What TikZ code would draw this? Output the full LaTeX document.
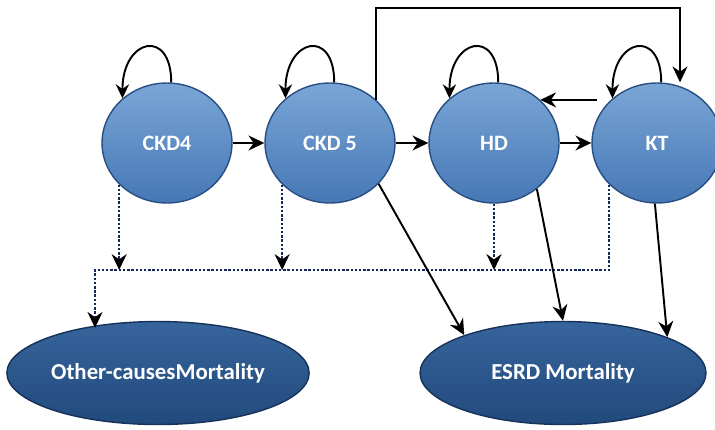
\documentclass[tikz,border=0pt]{standalone}
\usepackage{fontspec}
\setmainfont{Carlito}
\usetikzlibrary{arrows.meta,calc,positioning,shapes.geometric}
\definecolor{stateblue}{RGB}{70,120,182}
\definecolor{stateblueL}{RGB}{122,166,214}
\definecolor{stateedge}{RGB}{40,78,130}
\definecolor{deathtop}{RGB}{54,100,156}
\definecolor{deathbot}{RGB}{34,74,124}
\definecolor{deathedge}{RGB}{22,50,90}
\definecolor{dotnavy}{RGB}{18,42,90}

\begin{document}
\begin{tikzpicture}[x=0.02cm, y=-0.02cm,
    state/.style={ellipse, minimum width=2.6cm, minimum height=2.4cm, inner sep=0pt, draw=stateedge, thick,
      top color=stateblueL, bottom color=stateblue, text=white, font=\bfseries\fontsize{12.5}{14}\selectfont},
    death/.style={ellipse, minimum width=5.72cm, minimum height=2.06cm, inner sep=0pt, draw=deathedge, thick,
      top color=deathtop, bottom color=deathbot, text=white, font=\bfseries\fontsize{13}{15}\selectfont},
    flow/.style={-{Stealth[length=9pt,width=8.5pt]}, line width=1.1pt, black},
    dotflow/.style={-{Stealth[length=9pt,width=8.5pt,color=black]}, line width=1.4pt, densely dotted, dotnavy},
    selfloop/.style={-{Stealth[length=8pt,width=7.5pt]}, line width=1.1pt, black}]
  \useasboundingbox[fill=white] (0,0) rectangle (715,429);

  % states
  \node[state] (ckd4) at (167,143) {CKD4};
  \node[state] (ckd5) at (330,143) {CKD 5};
  \node[state] (hd) at (494,143) {HD};
  \node[state] (kt) at (657,143) {KT};
  % absorbing states
  \node[death] (other) at (158,373) {Other-causesMortality};
  \node[death] (esrd) at (563,373) {ESRD Mortality};

  \coordinate (topr) at (680,8);
  \coordinate (busl) at (95,270);

  % staying in a state
  \foreach \s in {ckd4,ckd5,hd,kt}
    \draw[selfloop] (\s.86) .. controls ($(\s.86)+(0,-55)$) and ($(\s.135)+(0,-60)$) .. (\s.135);

  % progression
  \draw[flow] (ckd4) -- (ckd5);
  \draw[flow] (ckd5) -- (hd);
  \draw[flow] (hd) -- (kt);
  \draw[flow, shorten <=0.28cm] (kt.137) -- (hd.43);
  \draw[flow] (ckd5.43) |- (topr) -- (kt.north -| topr);

  % other-cause deaths
  \draw[dotflow] (ckd4.221) -- (ckd4.221 |- busl);
  \draw[dotflow] (ckd5.221) -- (ckd5.221 |- busl);
  \draw[dotflow] (hd.south) -- (hd.south |- busl);
  \draw[dotflow, shorten >=-4pt] (kt.221) |- (busl) -- (busl |- other.north);

  % ESRD deaths
  \draw[flow] (ckd5.-40) -- (esrd.159);
  \draw[flow] (hd.-47) -- (esrd.north);
  \draw[flow] (kt.-92) -- (esrd.19);
\end{tikzpicture}
\end{document}
